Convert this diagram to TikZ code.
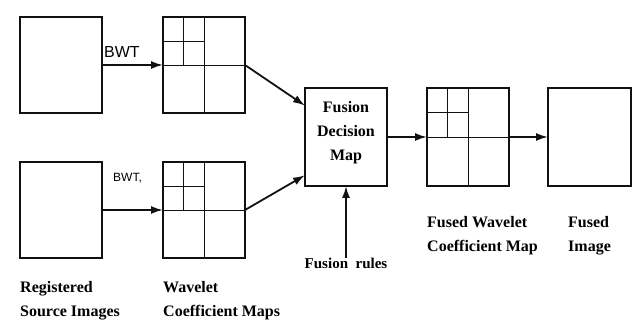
\documentclass[tikz,border=0pt]{standalone}
\usepackage{fontspec}
\setmainfont{Liberation Serif}
\setsansfont{Liberation Sans}
\definecolor{blockedge}{HTML}{111111}
\usetikzlibrary{arrows.meta,calc}

\begin{document}
\begin{tikzpicture}[
  x=1pt,
  y=-1pt,
  line join=miter,
  block/.style={draw=blockedge,line width=2.4pt,minimum width=82pt,minimum height=96pt,inner sep=0pt,outer sep=0pt,align=center},
  grid/.style={draw=blockedge,line width=0.9pt},
  flow/.style={draw=blockedge,line width=1.8pt,-{Latex[length=12pt,width=8pt]}},
  caption/.style={font=\fontsize{16}{24}\selectfont\bfseries,align=left,anchor=north west,inner sep=0pt},
  wtlabel/.style={font=\sffamily,inner sep=0pt}
]
  \useasboundingbox (0,0) rectangle (638,320);

  % source images and their wavelet maps
  \node[block] (src1) at (61,65) {};
  \node[block] (wav1) at (204,65) {};
  \node[block] (src2) at (61,210) {};
  \node[block] (wav2) at (204,210) {};

  % decision map and outputs
  \node[block,minimum height=98pt,font=\fontsize{16}{24}\selectfont\bfseries] (decision) at (346,137) {Fusion\\Decision\\Map\\[-12pt]};
  \node[block,minimum height=98pt] (fusedwav) at (468,137) {};
  \node[block,minimum height=98pt,minimum width=83pt] (fusedimg) at (589.5,137) {};

  % two-level decomposition grids
  \draw[grid] (wav1.north) -- (wav1.south);
  \draw[grid] (wav1.west) -- (wav1.east);
  \draw[grid] ($(wav1.north west)!0.5!(wav1.north)$) -- ($(wav1.west)!0.5!(wav1.center)$);
  \draw[grid] ($(wav1.north west)!0.5!(wav1.west)$) -- ($(wav1.north)!0.5!(wav1.center)$);

  \draw[grid] (wav2.north) -- (wav2.south);
  \draw[grid] (wav2.west) -- (wav2.east);
  \draw[grid] ($(wav2.north west)!0.5!(wav2.north)$) -- ($(wav2.west)!0.5!(wav2.center)$);
  \draw[grid] ($(wav2.north west)!0.5!(wav2.west)$) -- ($(wav2.north)!0.5!(wav2.center)$);

  \draw[grid] (fusedwav.north) -- (fusedwav.south);
  \draw[grid] (fusedwav.west) -- (fusedwav.east);
  \draw[grid] ($(fusedwav.north west)!0.5!(fusedwav.north)$) -- ($(fusedwav.west)!0.5!(fusedwav.center)$);
  \draw[grid] ($(fusedwav.north west)!0.5!(fusedwav.west)$) -- ($(fusedwav.north)!0.5!(fusedwav.center)$);

  \node[wtlabel,font=\sffamily\fontsize{16}{18}\selectfont,anchor=south west] (bwt1) at (104,58) {BWT};
  \node[wtlabel,font=\sffamily\fontsize{12}{14}\selectfont,anchor=south west] (bwt2) at (113,183) {BWT,};

  \coordinate (inA) at ($(decision.north west)!0.18!(decision.south west)$);
  \coordinate (inB) at ($(decision.north west)!0.89!(decision.south west)$);

  \draw[flow] (src1.east) -- (wav1.west);
  \draw[flow] (src2.east) -- (wav2.west);
  \draw[flow] (wav1.east) -- (inA);
  \draw[flow] (wav2.east) -- (inB);
  \draw[flow] (decision.east) -- (fusedwav.west);
  \draw[flow] (fusedwav.east) -- (fusedimg.west);

  \node[font=\fontsize{15}{18}\selectfont\bfseries,inner sep=0pt,anchor=north] (rules) at (346,258) {Fusion\ \ rules};
  \draw[flow] (rules.north) -- (decision.south);

  \node[caption] (capsrc) at (20,281) {Registered\\Source Images};
  \node[caption] (capwav) at (163,281) {Wavelet\\Coefficient Maps};
  \node[caption] (capfw) at (427,216) {Fused Wavelet\\Coefficient Map};
  \node[caption] (capfi) at (568,216) {Fused\\Image};
\end{tikzpicture}
\end{document}
